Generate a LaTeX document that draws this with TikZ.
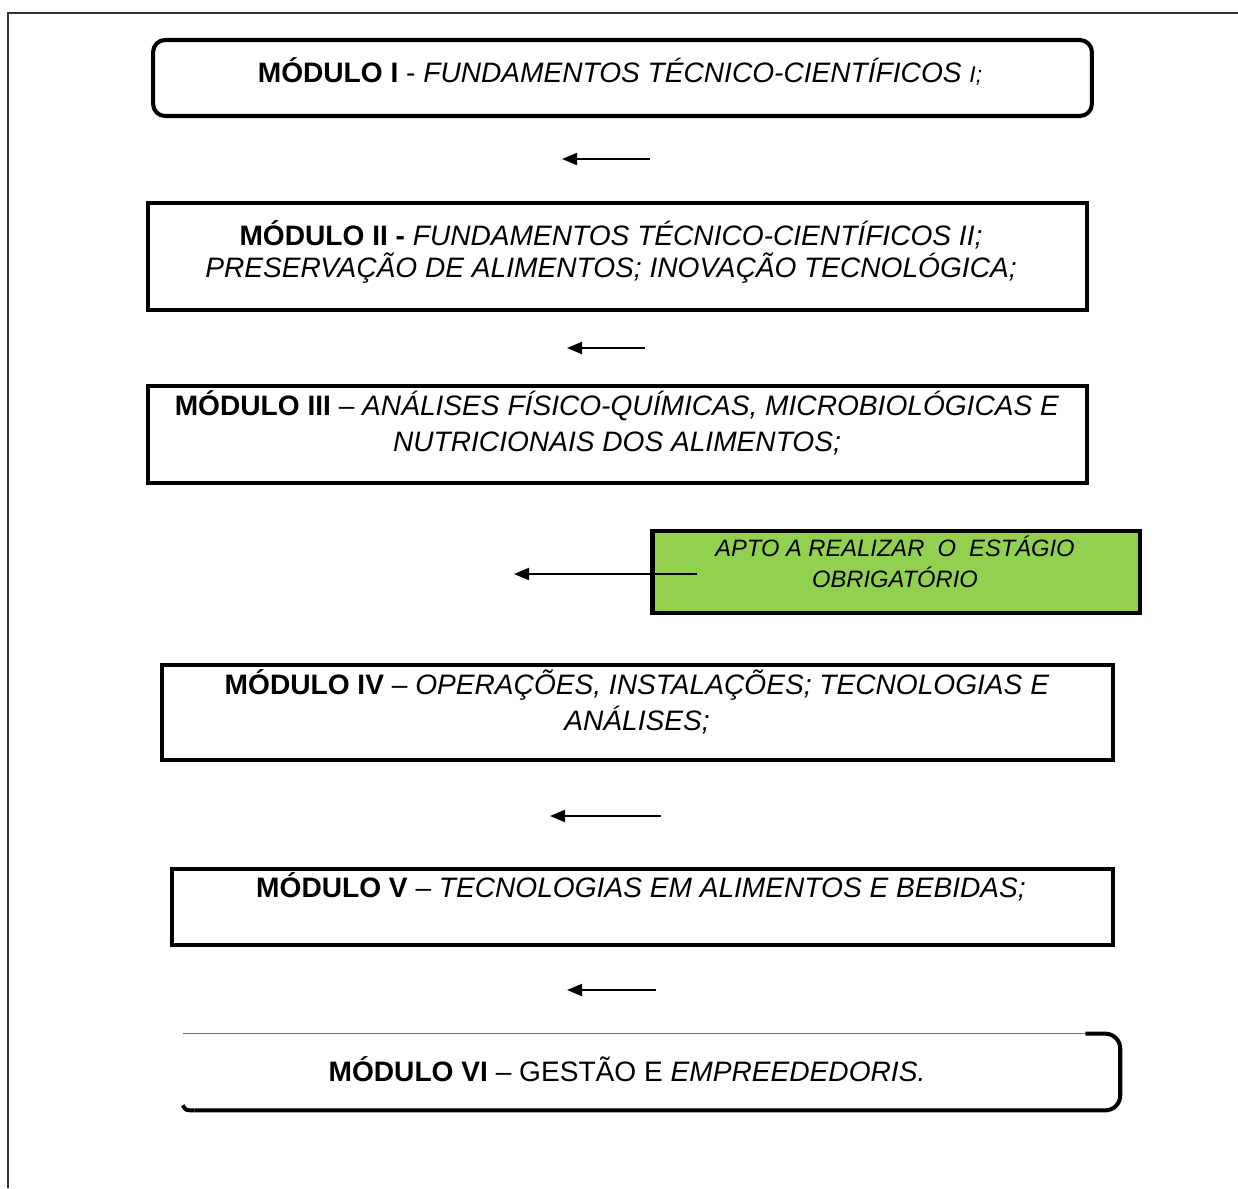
\documentclass[tikz,border=0pt]{standalone}
\usepackage{fontspec}
\setmainfont{Liberation Sans}
\usetikzlibrary{arrows.meta, calc}
\definecolor{verde}{RGB}{146,208,80}
\tikzset{
  modulo/.style={draw, line width=2.3pt, minimum height=1.52cm, inner sep=0pt},
  freccia/.style={-{Triangle[length=0.3cm,width=0.24cm]}, line width=1.1pt},
  testo/.style={align=center, inner sep=0pt, font=\fontsize{16}{18.1}\selectfont},
}

\begin{document}
\begin{tikzpicture}[x=0.02cm, y=-0.02cm]
    \useasboundingbox (0,0) rectangle (1238,1188);
    % Cornice
    \draw[line width=1.2pt, black!80] (8,1188) -- (8,13) -- (1238,13);
    % Moduli
    \node[modulo, rounded corners=0.24cm, minimum width=18.78cm] (m1) at (622.5,78) {};
    \node[modulo, minimum width=18.78cm, minimum height=2.14cm] (m2) at (617.5,256.5) {};
    \node[modulo, minimum width=18.78cm, minimum height=1.94cm] (m3) at (617.5,434.5) {};
    \node[modulo, fill=verde, line width=2.8pt, minimum width=9.76cm, minimum height=1.64cm] (apto) at (896,572) {};
    \node[modulo, minimum width=19.02cm, minimum height=1.9cm] (m4) at (637.5,712.5) {};
    \node[modulo, minimum width=18.82cm] (m5) at (642.5,907) {};
    \node[minimum width=18.74cm, minimum height=1.52cm, inner sep=0pt] (m6) at (651.5,1072) {};
    \draw[line width=0.8pt, black!55] (m6.north west) -- ($(m6.north east)+(-35,0)$);
    \draw[line width=2.3pt, rounded corners=0.3cm] ($(m6.north east)+(-35,0)$) -- (m6.north east) -- (m6.south east) -- ($(m6.south west)+(12,0)$);
    \draw[line width=2.3pt] ($(m6.south west)+(12,0)$) .. controls ($(m6.south west)+(3,0)$) .. ($(m6.south west)+(0,-5)$);
    % Testi
    \node[testo] (t1) at (620,71) {\textbf{MÓDULO I} - \textit{FUNDAMENTOS TÉCNICO-CIENTÍFICOS {\fontsize{13}{15}\selectfont I;}}};
    \node[testo] (t2) at (611,252) {\textbf{MÓDULO II -} \textit{FUNDAMENTOS TÉCNICO-CIENTÍFICOS II;}\\\textit{PRESERVAÇÃO DE ALIMENTOS; INOVAÇÃO TECNOLÓGICA;}};
    \node[testo, font=\fontsize{16}{20.4}\selectfont] (t3) at (617,423) {\textbf{MÓDULO III} -- \textit{ANÁLISES FÍSICO-QUÍMICAS, MICROBIOLÓGICAS E}\\\textit{NUTRICIONAIS DOS ALIMENTOS;}};
    \node[testo, font=\itshape\fontsize{13.5}{17.6}\selectfont] (t4) at (895,562) {APTO A REALIZAR\ \ O\ \ ESTÁGIO\\OBRIGATÓRIO};
    \node[testo, font=\fontsize{16}{20.4}\selectfont] (t5) at (637,702) {\textbf{MÓDULO IV} -- \textit{OPERAÇÕES, INSTALAÇÕES; TECNOLOGIAS E}\\\textit{ANÁLISES;}};
    \node[testo] (t6) at (641,887) {\textbf{MÓDULO V} -- \textit{TECNOLOGIAS EM ALIMENTOS E BEBIDAS;}};
    \node[testo] (t7) at (627,1069) {\textbf{MÓDULO VI} -- GESTÃO E \textit{EMPREEDEDORIS.}};
    % Frecce
    \foreach \n/\xa/\xb/\y in {1/650/562/159, 2/645/567/348, 3/697/514/574, 4/661/550/816, 5/656/567/990} {
        \coordinate (da\n) at (\xa,\y);
        \coordinate (a\n) at (\xb,\y);
        \draw[freccia] (da\n) -- (a\n);
    }
\end{tikzpicture}
\end{document}
